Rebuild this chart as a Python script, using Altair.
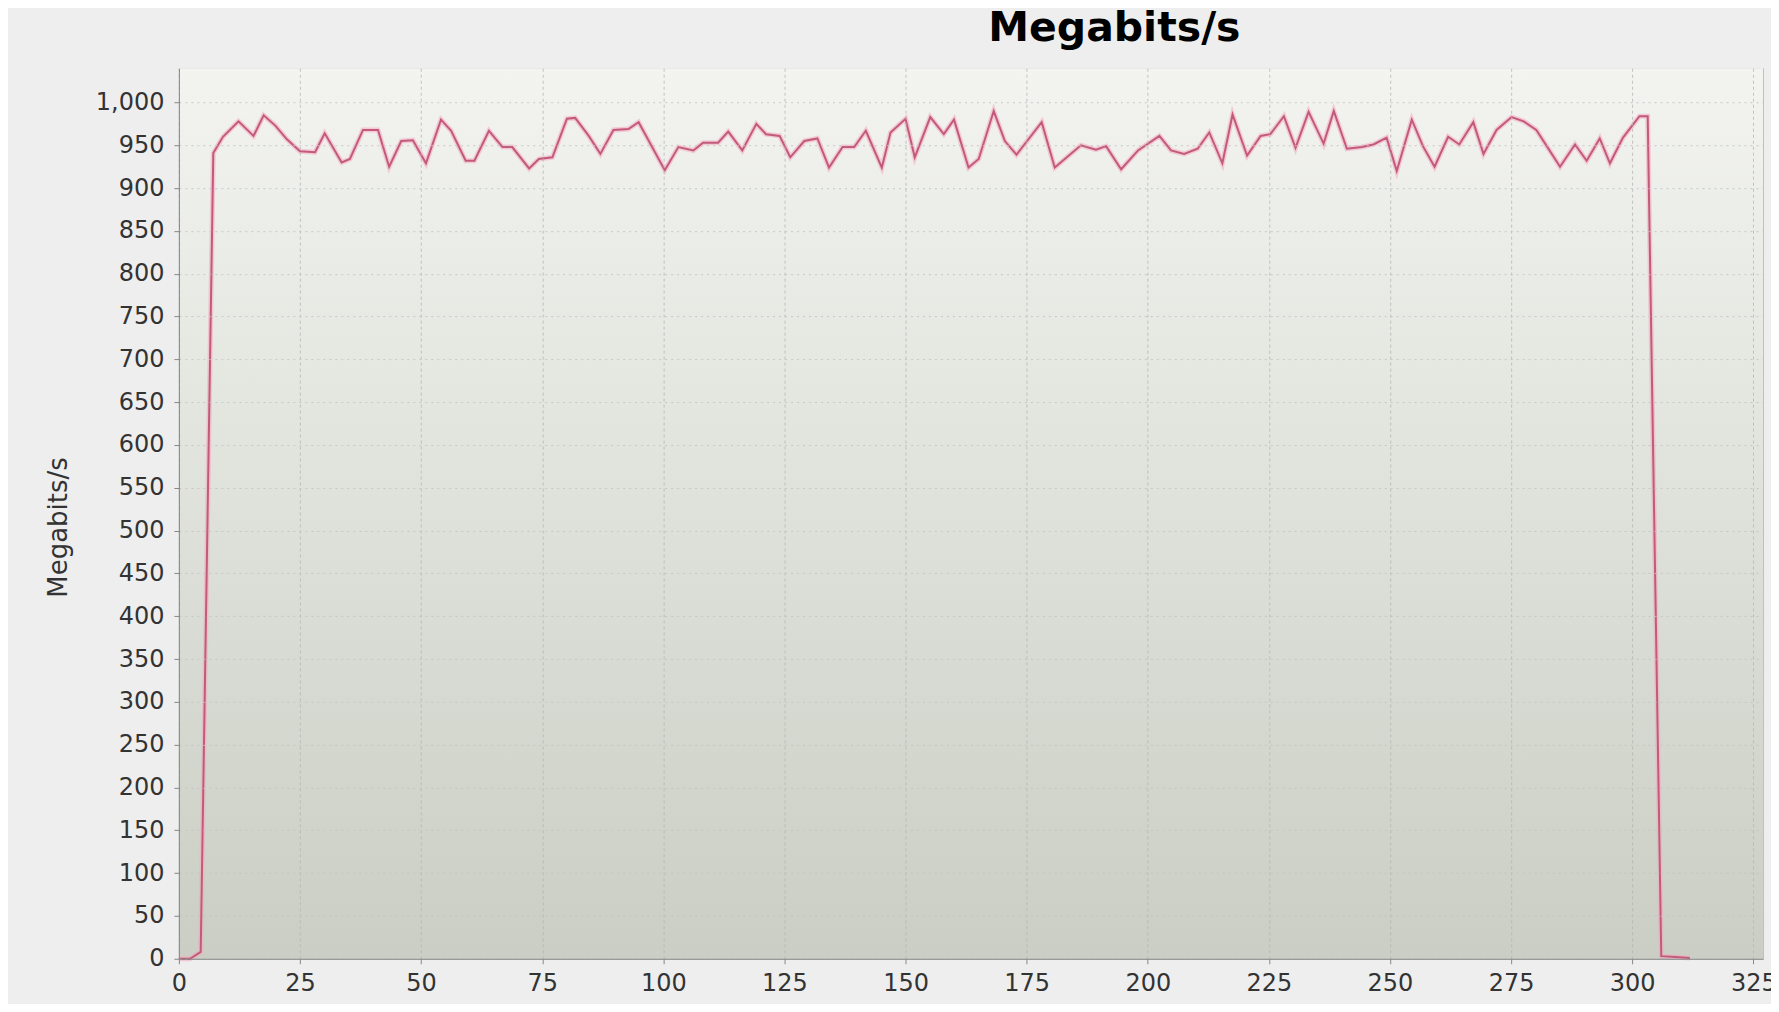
import altair as alt
import pandas as pd

# time (s)
x_sec = [0, 2.3, 4.5, 7.1, 9.1, 12.3, 15.4, 17.5, 19.9, 22.3, 25.0, 28.1, 30.1, 33.6, 35.3, 38.0,
         41.1, 43.4, 45.9, 48.3, 51.0, 54.1, 56.2, 59.2, 61.0, 64.0, 66.8, 68.8, 72.3, 74.3, 77.1,
         80.1, 81.8, 84.6, 87.0, 89.7, 92.8, 94.9, 100.3, 103.1, 106.2, 108.2, 111.3, 113.4, 116.3,
         119.2, 121.2, 124.0, 126.2, 129.1, 131.8, 134.2, 137.0, 139.4, 141.8, 145.1, 146.9, 150.0,
         151.9, 155.1, 157.9, 160.0, 163.0, 165.1, 168.2, 170.5, 172.9, 178.1, 180.8, 186.2, 189.3,
         191.4, 194.5, 198.0, 202.4, 204.8, 207.5, 210.3, 212.7, 215.4, 217.5, 220.5, 223.3, 225.3,
         228.1, 230.5, 233.2, 236.3, 238.4, 241.1, 244.2, 246.6, 249.3, 251.4, 254.5, 256.8, 259.2,
         262.0, 264.3, 267.2, 269.3, 272.0, 275.1, 277.6, 280.2, 282.6, 285.1, 288.2, 290.6, 293.3,
         295.4, 298.1, 301.5, 303.2, 306.0, 309.0, 311.9]
# throughput (Megabits/s)
mbps = [0, 0, 8, 941, 960, 978, 961, 985, 973, 957, 943, 942, 964, 930, 934, 968,
        968, 925, 955, 956, 929, 980, 967, 932, 932, 967, 948, 948, 923, 934, 936,
        981, 982, 961, 940, 968, 969, 977, 921, 948, 944, 953, 953, 966, 944,
        975, 963, 961, 936, 955, 958, 924, 948, 948, 967, 924, 965, 981,
        936, 983, 963, 980, 924, 934, 990, 955, 939, 977, 924, 950, 945,
        949, 922, 944, 961, 944, 940, 946, 965, 929, 986, 938, 961, 963,
        984, 947, 989, 952, 990, 946, 948, 951, 959, 920, 980, 949, 925,
        960, 951, 977, 940, 968, 983, 978, 968, 947, 925, 951, 932, 958,
        929, 959, 984, 984, 3, 2, 1]

x_ticks = list(range(0, 326, 25))
y_ticks = list(range(0, 1001, 50))
chart_title = ["Megabits/s"]

df = pd.DataFrame({"t": x_sec, "v": mbps})
bg_df = pd.DataFrame({"k": [0]})
title_df = pd.DataFrame({"label": chart_title})

W, H = 1585, 891

x_scale = alt.Scale(domain=[0, 327], nice=False, zero=False)
y_scale = alt.Scale(domain=[0, 1040], nice=False)

x_axis = alt.Axis(values=x_ticks, format="d", title=None, labelFontSize=24, labelColor="#333333",
                  labelFont="DejaVu Sans", tickSize=5, tickColor="#888888", domainColor="#888888",
                  labelPadding=8, grid=True, gridColor="#b5b5b5", gridDash=[3, 3], gridOpacity=0.8,
                  zindex=1, labelFlush=False, labelOverlap=False)
y_axis = alt.Axis(values=y_ticks, format=",d", title="Megabits/s", labelFontSize=24,
                  labelColor="#333333", labelFont="DejaVu Sans", tickSize=5, tickColor="#888888",
                  domainColor="#888888", labelPadding=10, grid=True, gridColor="#c4c4c4",
                  gridDash=[2, 4], gridOpacity=0.9, zindex=1, titleFont="DejaVu Sans",
                  titleFontSize=26, titleFontWeight="normal", titleColor="#333333",
                  titleX=-120, titleY=459, titleAlign="center", titleBaseline="middle",
                  titleAngle=270, labelOverlap=False, labelFlush=False)

background = alt.Chart(bg_df).mark_rect(
    color=alt.Gradient(
        gradient="linear", x1=0, y1=0, x2=0, y2=1,
        stops=[alt.GradientStop(offset=0, color="#f3f4f0"),
               alt.GradientStop(offset=1, color="#cacec4")],
    )
).encode(x=alt.value(0), x2=alt.value(W), y=alt.value(0), y2=alt.value(H))

halo = alt.Chart(df).mark_line(color="#f2a9bd", strokeWidth=5, opacity=0.55).encode(
    x=alt.X("t:Q", scale=x_scale, axis=x_axis),
    y=alt.Y("v:Q", scale=y_scale, axis=y_axis),
)
line = alt.Chart(df).mark_line(color="#c45a7b", strokeWidth=2.0).encode(
    x=alt.X("t:Q", scale=x_scale, axis=x_axis),
    y=alt.Y("v:Q", scale=y_scale, axis=y_axis),
)

title_mark = alt.Chart(title_df).mark_text(
    font="DejaVu Sans", fontSize=41, fontWeight="bold", color="#000000",
    align="center", baseline="alphabetic", clip=False,
).encode(text="label:N", x=alt.value(1115 - 179), y=alt.value(41 - 68))

chart = alt.layer(background, halo, line, title_mark).properties(
    width=W, height=H,
    padding={"left": 171, "top": 60, "right": 8, "bottom": 45},
    autosize=alt.AutoSizeParams(type="none"),
).configure(background="#eeeeee").configure_view(stroke="#c0c0c0", strokeWidth=1)

chart.save("out.html", embed_options={"renderer": "svg", "actions": False})
